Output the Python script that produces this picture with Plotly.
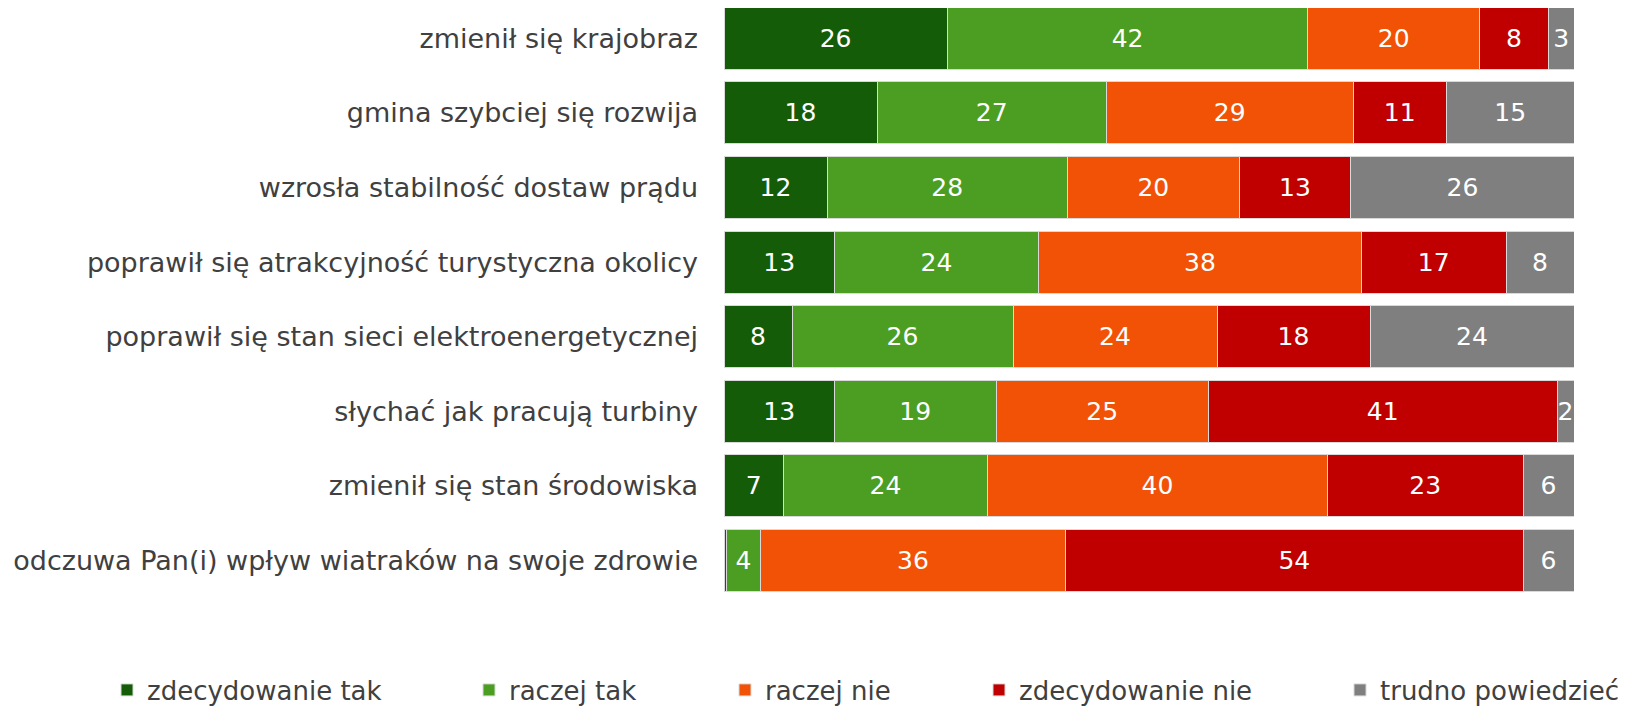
import plotly.graph_objects as go

categories = [
    "zmienił się krajobraz",
    "gmina szybciej się rozwija",
    "wzrosła stabilność dostaw prądu",
    "poprawił się atrakcyjność turystyczna okolicy",
    "poprawił się stan sieci elektroenergetycznej",
    "słychać jak pracują turbiny",
    "zmienił się stan środowiska",
    "odczuwa Pan(i) wpływ wiatraków na swoje zdrowie",
]
series_names = ["zdecydowanie tak", "raczej tak", "raczej nie", "zdecydowanie nie", "trudno powiedzieć"]
zdecydowanie_tak = [26, 18, 12, 13, 8, 13, 7, 0.3]
raczej_tak = [42, 27, 28, 24, 26, 19, 24, 4]
raczej_nie = [20, 29, 20, 38, 24, 25, 40, 36]
zdecydowanie_nie = [8, 11, 13, 17, 18, 41, 23, 54]
trudno = [3, 15, 26, 8, 24, 2, 6, 6]
series_values = [zdecydowanie_tak, raczej_tak, raczej_nie, zdecydowanie_nie, trudno]
colors = ["#155C08", "#4B9E22", "#F25205", "#C00000", "#7F7F7F"]

FONT = "DejaVu Sans"
# page has an 8px body margin; figure coordinates below are page coords minus 8
W, H = 1623, 699
L, R, T, B = 716, 57, 0, 99
pw = W - L - R
ph = H - T - B
legend_px = [99, 461, 717, 971, 1332]
legend_ypx = 682

fig = go.Figure()
for i, (name, vals, col) in enumerate(zip(series_names, series_values, colors)):
    lg = "legend" if i == 0 else f"legend{i+1}"
    fig.add_trace(go.Bar(
        y=categories, x=vals, name=name, orientation="h",
        marker=dict(color=col, line=dict(color="#D9D9D9", width=1)),
        text=[(f"{v:g}" if v >= 1 else "") for v in vals],
        textposition="inside", insidetextanchor="middle", textangle=0,
        textfont=dict(family=FONT, size=25, color="white"),
        legend=lg, hoverinfo="x+y+name",
    ))

layout_legends = {}
for i, px in enumerate(legend_px):
    key = "legend" if i == 0 else f"legend{i+1}"
    layout_legends[key] = dict(
        x=(px - L) / pw, y=(H - B - legend_ypx) / ph,
        xanchor="left", yanchor="middle", orientation="h",
        font=dict(family=FONT, size=26, color="#404040"),
        bgcolor="rgba(0,0,0,0)",
    )

fig.update_layout(
    width=W, height=H,
    margin=dict(l=L, r=R, t=T, b=B, autoexpand=False),
    barmode="stack", barnorm="percent", bargap=0.169,
    plot_bgcolor="white", paper_bgcolor="white",
    uniformtext=dict(minsize=25, mode="show"),
    showlegend=True,
    xaxis=dict(visible=False, range=[0, 100], fixedrange=True),
    yaxis=dict(range=[7.637, -0.406], showgrid=False, showline=False, zeroline=False,
               ticks="", ticklabelstandoff=25, automargin=False,
               tickfont=dict(family=FONT, size=27, color="#404040")),
    **layout_legends,
)
fig.write_html("out.html")
